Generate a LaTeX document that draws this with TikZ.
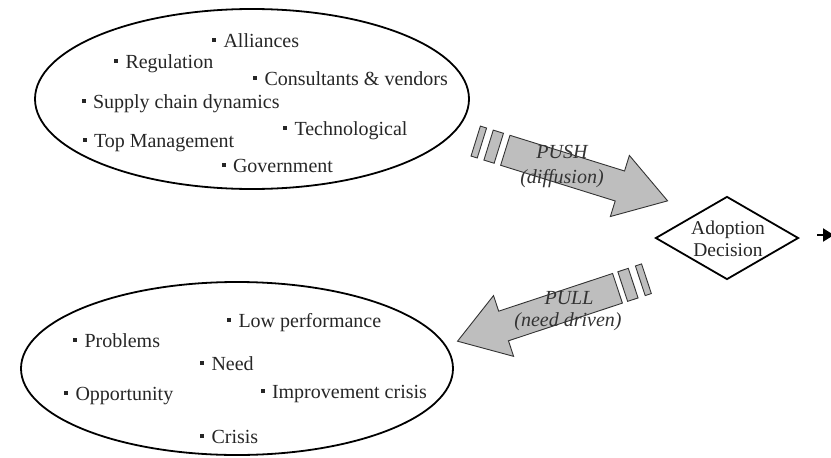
\documentclass[tikz,border=0pt]{standalone}
\usepackage{fontspec}
\setmainfont{Liberation Serif}
\usetikzlibrary{shapes.geometric,arrows.meta}
\newcommand{\itembul}{\rule[5.5pt]{3.8pt}{3.8pt}\hspace{7.5pt}}
\begin{document}
\begin{tikzpicture}[x=1pt,y=-1pt,
  item/.style={anchor=base west, inner sep=0pt, font=\fontsize{20}{24}\selectfont, text=black!85},
  cloud/.style={ellipse, draw, line width=1.8pt, inner sep=0pt},
  blockarrow/.style={draw=black!80, line width=0.9pt, fill={rgb,255:red,190;green,190;blue,190}, line join=miter},
  arrowlabel/.style={font=\fontsize{20}{24}\selectfont\itshape, text=black!80, inner sep=0pt},
]
\useasboundingbox (0,0) rectangle (831,458);
\clip (0,0) rectangle (831,458);

% ellipses
\node[cloud, minimum width=434pt, minimum height=180pt] (pushcloud) at (252,99) {};
\node[cloud, minimum width=432pt, minimum height=173pt] (pullcloud) at (237,368.5) {};

% top items
\node[item] (alliances) at (212,47) {\itembul Alliances};
\node[item] (regulation) at (114,68.5) {\itembul Regulation};
\node[item] (consult) at (253,85) {\itembul Consultants \& vendors};
\node[item] (supply) at (81.5,108.5) {\itembul Supply chain dynamics};
\node[item] (techno) at (283,135) {\itembul Technological};
\node[item] (topman) at (82.5,147) {\itembul Top Management};
\node[item] (govt) at (221.5,172) {\itembul Government};

% bottom items
\node[item] (lowperf) at (227,327) {\itembul Low performance};
\node[item] (problems) at (73,347) {\itembul Problems};
\node[item] (need) at (200,370) {\itembul Need};
\node[item] (opport) at (64,400) {\itembul Opportunity};
\node[item] (improve) at (260.5,398.5) {\itembul Improvement crisis};
\node[item] (crisis) at (200,443.5) {\itembul Crisis};

% push arrow
\begin{scope}[shift={(505.3,150.3)}, rotate=-17.3]
  \draw[blockarrow] (-31,-15.7) -- (-24.5,-15.7) -- (-24.5,15.7) -- (-31,15.7) -- cycle;
  \draw[blockarrow] (-17.5,-15.7) -- (-6.8,-15.7) -- (-6.8,15.7) -- (-17.5,15.7) -- cycle;
  \draw[blockarrow] (0,-15.7) -- (120,-15.7) -- (120,-32) -- (170,0) -- (120,32) -- (120,15.7) -- (0,15.7) -- cycle;
\end{scope}
\node[arrowlabel] (pushlbl) at (562,152) {PUSH};
\node[arrowlabel] (difflbl) at (562,179) {(diffusion)};

% pull arrow
\begin{scope}[shift={(617.5,288.3)}, rotate=198.3]
  \draw[blockarrow] (-30.5,-15.6) -- (-24,-15.6) -- (-24,15.6) -- (-30.5,15.6) -- cycle;
  \draw[blockarrow] (-16.5,-15.6) -- (-5.5,-15.6) -- (-5.5,15.6) -- (-16.5,15.6) -- cycle;
  \draw[blockarrow] (0,-15.6) -- (120,-15.6) -- (120,-32) -- (168.5,0) -- (120,32) -- (120,15.6) -- (0,15.6) -- cycle;
\end{scope}
\node[arrowlabel] (pulllbl) at (569,298) {PULL};
\node[arrowlabel] (needlbl) at (568,322) {(need driven)};

% decision diamond
\node[diamond, draw, line width=1.8pt, inner sep=0pt, minimum width=143pt, minimum height=83pt] (decision) at (727,238) {};
\node[inner sep=0pt, align=center, font=\fontsize{19.5}{22}\selectfont, text=black!85] (dectext) at (728,239) {Adoption\\Decision};

% outgoing arrow (cut at the edge)
\coordinate (outstart) at (817,235);
\coordinate (outend) at (834,235);
\draw[line width=2pt, -{Triangle[length=11pt,width=13pt]}] (outstart) -- (outend);
\end{tikzpicture}
\end{document}
